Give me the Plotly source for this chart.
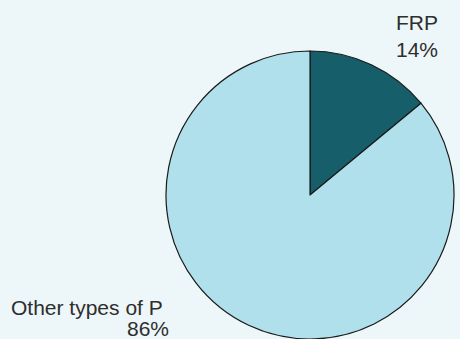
import plotly.graph_objects as go

# Share of P by type
labels = ["FRP", "Other types of P"]
shares = [14, 86]
colors = ["#165e6a", "#b0e0ec"]

W, H = 460, 339
cx, cy, r = 310, 195, 144  # pie centre and radius in pixels (from top-left)

fig = go.Figure(
    go.Pie(
        labels=labels,
        values=shares,
        sort=False,
        direction="clockwise",
        rotation=0,
        marker=dict(colors=colors, line=dict(color="#1a1a1a", width=1.2)),
        textinfo="none",
        hoverinfo="label+percent",
        showlegend=False,
        domain=dict(
            x=[(cx - r) / W, (cx + r) / W],
            y=[(H - cy - r) / H, (H - cy + r) / H],
        ),
    )
)

font = dict(family="Liberation Sans, Arial, sans-serif", size=21, color="#2e2e2e")

# label line positions: (x px, y px of line centre, anchor)
name_pos = [(417, 22, "center"), (165, 307, "right")]
pct_pos = [(417, 50, "center"), (171, 328, "right")]

for lab, val, (nx, ny, na), (px, py, pa) in zip(labels, shares, name_pos, pct_pos):
    for txt, x, y, anchor in ((lab, nx, ny, na), (f"{val}%", px, py, pa)):
        fig.add_annotation(
            text=txt,
            xref="paper", yref="paper",
            x=x / W, y=1 - y / H,
            xanchor=anchor, yanchor="middle",
            showarrow=False,
            font=font,
        )

fig.update_layout(
    width=W,
    height=H,
    margin=dict(l=0, r=0, t=0, b=0),
    paper_bgcolor="#edf6f8",
    plot_bgcolor="#edf6f8",
)

fig.write_html("out.html")
